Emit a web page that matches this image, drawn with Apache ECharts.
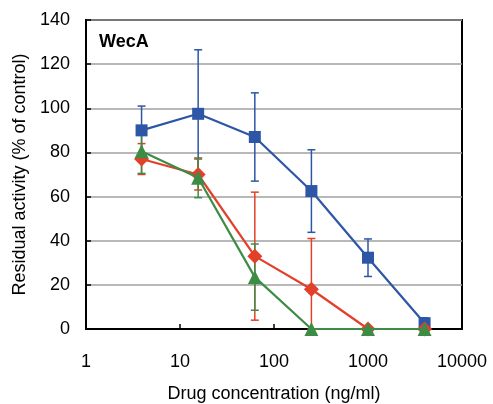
<!DOCTYPE html>
<html>
<head>
<meta charset="utf-8">
<script src="https://cdn.jsdelivr.net/npm/echarts@6/dist/echarts.min.js"></script>
<style>
  html, body { margin: 0; padding: 0; background: #fff; }
  #chart { width: 493px; height: 404px; }
</style>
</head>
<body>
<div id="chart"></div>
<script>
// drug concentrations (ng/ml), 4-fold dilutions
var conc = [3.9, 15.6, 62.5, 250, 1000, 4000];

// residual activity (% of control) and error (+/-) for each curve
var blueVals = [90, 97.5, 87, 62.5, 32.3, 2.6];
var blueErr = [11, 29, 20, 18.7, 8.5, 2.5];
var redVals = [77, 70, 33, 18, 0, 0];
var redErr = [7, 7, 29, 23, 0, 0];
var greenVals = [80.5, 68.5, 23.5, 0, 0, 0];
var greenErr = [10, 9, 15, 0, 0, 0];

var FONT = "'Liberation Sans', Arial, sans-serif";

function lineData(vals) {
  return conc.map(function (c, i) { return [c, vals[i]]; });
}

function errData(vals, errs) {
  var out = [];
  conc.forEach(function (c, i) {
    // bars are cut off at the bottom of the axis
    if (errs[i] > 0) out.push([c, Math.max(0, vals[i] - errs[i]), vals[i] + errs[i]]);
  });
  return out;
}

function errSeries(vals, errs, color) {
  return {
    type: 'custom',
    data: errData(vals, errs),
    encode: { x: 0, y: [1, 2] },
    z: 2,
    renderItem: function (params, api) {
      var lo = api.coord([api.value(0), api.value(1)]);
      var hi = api.coord([api.value(0), api.value(2)]);
      var w = 4;
      var style = { stroke: color, lineWidth: 1.5 };
      return {
        type: 'group',
        children: [
          { type: 'line', shape: { x1: hi[0], y1: hi[1], x2: lo[0], y2: lo[1] }, style: style },
          { type: 'line', shape: { x1: hi[0] - w, y1: hi[1], x2: hi[0] + w, y2: hi[1] }, style: style },
          { type: 'line', shape: { x1: lo[0] - w, y1: lo[1], x2: lo[0] + w, y2: lo[1] }, style: style }
        ]
      };
    }
  };
}

function lineSeries(vals, color, symbol, size, z) {
  return {
    type: 'line',
    data: lineData(vals),
    symbol: symbol,
    symbolSize: size,
    showAllSymbol: true,
    z: z,
    lineStyle: { color: color, width: 2.2 },
    itemStyle: { color: color, borderWidth: 0 }
  };
}

var chart = echarts.init(document.getElementById('chart'), null, { renderer: 'canvas' });

chart.setOption({
  animation: false,
  backgroundColor: '#fff',
  title: {
    text: 'WecA',
    left: 99,
    top: 33,
    padding: 0,
    textStyle: { fontFamily: FONT, fontSize: 18, fontWeight: 'bold', color: '#000' }
  },
  grid: {
    left: 86,
    top: 20,
    width: 376,
    height: 309,
    outerBoundsMode: 'none',
    show: true,
    borderColor: '#000',
    borderWidth: 2
  },
  xAxis: {
    type: 'log',
    logBase: 10,
    min: 1,
    max: 10000,
    name: 'Drug concentration (ng/ml)',
    nameLocation: 'middle',
    nameGap: 56,
    nameTextStyle: { fontFamily: FONT, fontSize: 18, color: '#000' },
    axisLine: { onZero: false, lineStyle: { color: '#000', width: 2 } },
    axisTick: { inside: true, length: 5, lineStyle: { color: '#000', width: 1.5 } },
    minorTick: { show: false },
    splitLine: { show: false },
    axisLabel: {
      fontFamily: FONT, fontSize: 18, color: '#000', margin: 24,
      formatter: function (v) { return String(Math.round(v)); }
    }
  },
  yAxis: {
    type: 'value',
    min: 0,
    max: 140,
    interval: 20,
    name: 'Residual activity (% of control)',
    nameLocation: 'middle',
    nameGap: 47,
    nameTextStyle: { fontFamily: FONT, fontSize: 18, color: '#000' },
    axisLine: { show: true, lineStyle: { color: '#000', width: 2 } },
    axisTick: { show: true, inside: true, length: 5, lineStyle: { color: '#000', width: 1.5 } },
    splitLine: { show: true, lineStyle: { color: '#a0a0a0', width: 1.5 } },
    axisLabel: { fontFamily: FONT, fontSize: 18, color: '#000', margin: 16 }
  },
  series: [
    errSeries(blueVals, blueErr, '#2d56a6'),
    lineSeries(blueVals, '#2d56a6', 'rect', 12, 3),
    errSeries(redVals, redErr, '#e2402a'),
    lineSeries(redVals, '#e2402a', 'diamond', 15, 4),
    errSeries(greenVals, greenErr, '#3d8c46'),
    lineSeries(greenVals, '#3d8c46', 'triangle', 14, 5)
  ]
});
</script>
</body>
</html>
